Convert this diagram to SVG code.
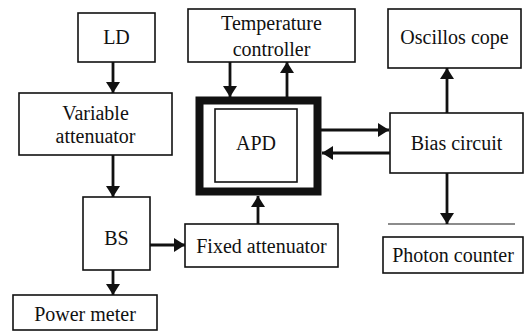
<svg xmlns="http://www.w3.org/2000/svg" width="525" height="331" viewBox="0 0 525 331">
<style>
.box{fill:#fff;stroke:#111;stroke-width:1.6}
text{font-size:20px;fill:#111;text-anchor:middle}
.c{stroke:#111;stroke-width:2.8;fill:none}
</style>
<defs>
<marker id="ah" viewBox="0 0 11 14" refX="11" refY="7" markerWidth="11" markerHeight="14" markerUnits="userSpaceOnUse" orient="auto">
<path d="M0,0 L11,7 L0,14 Z" fill="#111"/>
</marker>
</defs>
<rect width="525" height="331" fill="#fff"/>
<g font-family="Liberation Serif, Times New Roman, DejaVu Serif, serif">
<g id="ld"><rect class="box" x="78" y="13" width="77" height="49"/><text x="116.5" y="44">LD</text></g>
<g id="varatt"><rect class="box" x="19" y="93" width="153" height="62"/><text x="95.5" y="120">Variable</text><text x="95.5" y="143">attenuator</text></g>
<g id="bs"><rect class="box" x="83" y="197" width="67" height="73"/><text x="116.5" y="245">BS</text></g>
<g id="power"><rect class="box" x="13" y="295" width="144" height="35"/><text x="85" y="321">Power meter</text></g>
<g id="fixed"><rect class="box" x="185" y="224" width="153" height="43"/><text x="261.5" y="253">Fixed attenuator</text></g>
<g id="temp"><rect class="box" x="188" y="9" width="167" height="53"/><text x="271.5" y="30">Temperature</text><text x="271.5" y="56">controller</text></g>
<g id="apd"><rect x="199.5" y="100.5" width="118" height="91" fill="#fff" stroke="#111" stroke-width="8"/><rect class="box" x="215" y="109" width="82" height="73"/><text x="256" y="150">APD</text></g>
<g id="osc"><rect class="box" x="388" y="9" width="133" height="59"/><text x="454.5" y="44">Oscillos cope</text></g>
<g id="bias"><rect class="box" x="390" y="113" width="133" height="60"/><text x="456.5" y="150">Bias circuit</text></g>
<g id="photon"><line x1="388" y1="224" x2="515" y2="224" stroke="#666" stroke-width="1.4"/><rect class="box" x="383" y="237" width="140" height="36"/><text x="453" y="262">Photon counter</text></g>
</g>
<g id="connectors">
<line class="c" x1="113" y1="62" x2="113" y2="93" marker-end="url(#ah)"/>
<line class="c" x1="113" y1="155" x2="113" y2="197" marker-end="url(#ah)"/>
<line class="c" x1="113" y1="270" x2="113" y2="295" marker-end="url(#ah)"/>
<line class="c" x1="150" y1="245" x2="185" y2="245" marker-end="url(#ah)"/>
<line class="c" x1="258" y1="224" x2="258" y2="196" marker-end="url(#ah)"/>
<line class="c" x1="230" y1="62" x2="230" y2="97" marker-end="url(#ah)"/>
<line class="c" x1="287" y1="97" x2="287" y2="62" marker-end="url(#ah)"/>
<line class="c" x1="321" y1="130" x2="389" y2="130" marker-end="url(#ah)"/>
<line class="c" x1="390" y1="153" x2="322" y2="153" marker-end="url(#ah)"/>
<line class="c" x1="447" y1="113" x2="447" y2="68" marker-end="url(#ah)"/>
<line class="c" x1="447" y1="173" x2="447" y2="224" marker-end="url(#ah)"/>
</g>
</svg>
